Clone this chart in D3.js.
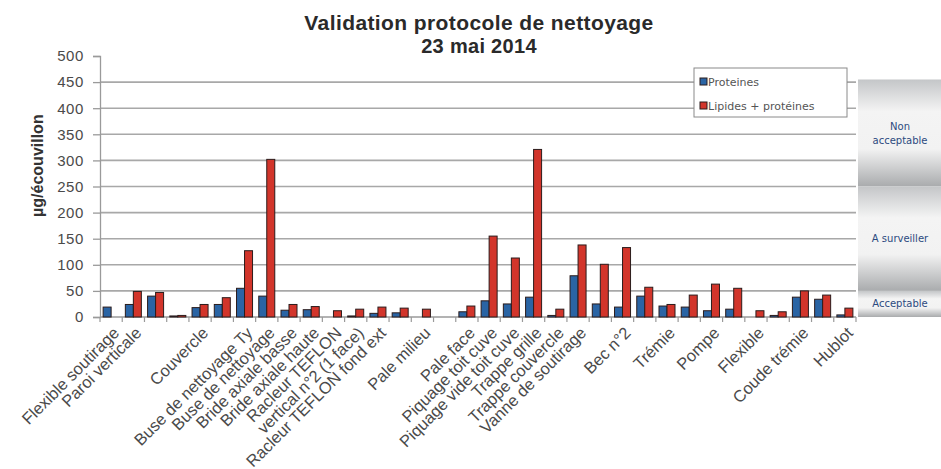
<!DOCTYPE html>
<html>
<head>
<meta charset="utf-8">
<script src="https://cdn.jsdelivr.net/npm/d3@7"></script>
<style>
  body { margin: 0; background: #fff; }
  svg { display: block; font-family: "Liberation Sans", Arial, sans-serif; }
</style>
</head>
<body>
<div id="viz"></div>
<script>
/* Validation protocole de nettoyage - bar chart rebuilt with D3 */

// categories (blank names are repeated sampling points)
var categories = [
  "Flexible soutirage", "Paroi verticale", "", "", "Couvercle", "",
  "Buse de nettoyage Ty", "Buse de nettoyage", "Bride axiale basse", "Bride axiale haute",
  "Racleur TEFLON", "vertical n°2 (1 face)", "Racleur TEFLON fond ext", "", "Pale milieu", "",
  "Pale face", "Piquage toit cuve", "Piquage vide toit cuve", "Trappe grille",
  "Trappe  couvercle", "Vanne de soutirage", "", "Bec n°2", "", "Trémie", "",
  "Pompe", "", "Flexible", "", "Coude trémie", "", "Hublot"
];

var proteines = [
  19, 24, 40, 2, 18, 24, 55, 40, 13, 14, null, 2, 7, 8, null, null,
  10, 31, 25, 38, 3, 79, 25, 19, 40, 21, 19, 12, 15, null, 3, 38, 34, 4
];

var lipides = [
  null, 49, 47, 3, 24, 37, 127, 302, 24, 20, 12, 15, 19, 17, 15, null,
  21, 155, 113, 321, 15, 138, 101, 133, 57, 24, 42, 63, 55, 12, 10, 50, 42, 17
];

var seriesNames = ["Proteines", "Lipides + protéines"];
var seriesColors = ["#2a64a4", "#d2352b"];

var yTicks = [0, 50, 100, 150, 200, 250, 300, 350, 400, 450, 500];

// zones on the right side
var zones = [
  { label: ["Non", "acceptable"], from: 455, to: 250 },
  { label: ["A surveiller"], from: 250, to: 50 },
  { label: ["Acceptable"], from: 50, to: 0 }
];

var W = 941, H = 469,
    margin = { top: 56, left: 100, right: 85, bottom: 152 },
    width = W - margin.left - margin.right,
    height = H - margin.top - margin.bottom;

var svg = d3.select('#viz').append('svg')
    .attr('width', W)
    .attr('height', H);

var defs = svg.append('defs');
var grad = defs.append('linearGradient')
    .attr('id', 'zoneGrad')
    .attr('x1', 0).attr('y1', 0).attr('x2', 0).attr('y2', 1);
grad.append('stop').attr('offset', '0%').attr('stop-color', '#c4c6c8');
grad.append('stop').attr('offset', '30%').attr('stop-color', '#f4f4f4');
grad.append('stop').attr('offset', '65%').attr('stop-color', '#f2f2f2');
grad.append('stop').attr('offset', '100%').attr('stop-color', '#a9abad');

var idx = d3.range(categories.length);

var x = d3.scaleBand()
    .domain(idx)
    .range([0, width]);

var x1 = d3.scaleBand()
    .domain([0, 1])
    .range([x.bandwidth() * 0.14, x.bandwidth() * 0.86]);

var y = d3.scaleLinear()
    .domain([0, 500])
    .range([height, 0]);

var g = svg.append('g')
    .attr('transform', 'translate(' + margin.left + ',' + margin.top + ')');

// gridlines
g.append('g')
  .selectAll('line')
  .data(yTicks.filter(function(d) { return d > 0 && d < 500; }))
  .enter().append('line')
    .attr('x1', 0)
    .attr('x2', width)
    .attr('y1', function(d) { return y(d); })
    .attr('y2', function(d) { return y(d); })
    .attr('stroke', '#a8a8a8')
    .attr('stroke-width', 1.6);

// y axis
var yAxis = g.append('g')
    .call(d3.axisLeft(y).tickValues(yTicks).tickSize(7).tickPadding(9));
yAxis.select('.domain').attr('stroke', '#9a9a9a').attr('stroke-width', 1.3);
yAxis.selectAll('.tick line').attr('stroke', '#9a9a9a').attr('stroke-width', 1.3);
yAxis.selectAll('.tick text')
    .attr('fill', '#4a4a4a')
    .style('font-size', '15px')
    .style('letter-spacing', '0.6px');

// x axis line + ticks at category boundaries
g.append('line')
    .attr('x1', 0).attr('x2', width)
    .attr('y1', height).attr('y2', height)
    .attr('stroke', '#9a9a9a')
    .attr('stroke-width', 1.3);

g.append('g')
  .selectAll('line')
  .data(d3.range(categories.length + 1))
  .enter().append('line')
    .attr('x1', function(d) { return d * x.step(); })
    .attr('x2', function(d) { return d * x.step(); })
    .attr('y1', height)
    .attr('y2', height + 5)
    .attr('stroke', '#9a9a9a')
    .attr('stroke-width', 1.2);

// bars
var groups = g.append('g')
  .selectAll('g')
  .data(idx)
  .enter().append('g')
    .attr('transform', function(d) { return 'translate(' + x(d) + ',0)'; });

groups.selectAll('rect')
  .data(function(i) {
    return [
      { s: 0, v: proteines[i] },
      { s: 1, v: lipides[i] }
    ].filter(function(d) { return d.v != null; });
  })
  .enter().append('rect')
    .attr('x', function(d) { return x1(d.s); })
    .attr('width', x1.bandwidth())
    .attr('y', function(d) { return y(d.v); })
    .attr('height', function(d) { return height - y(d.v); })
    .attr('fill', function(d) { return seriesColors[d.s]; })
    .attr('stroke', '#2b1c1c')
    .attr('stroke-width', 1);

// category labels
g.append('g')
  .selectAll('text')
  .data(idx)
  .enter().append('text')
    .attr('transform', function(d) {
      return 'translate(' + (x(d) + x.bandwidth() / 2 + 5) + ',' + (height + 13) + ') rotate(-45)';
    })
    .attr('text-anchor', 'end')
    .attr('dy', '0.35em')
    .attr('fill', '#4a4a4a')
    .style('font-size', '16.5px')
    .text(function(d) { return categories[d]; });

// y axis title
svg.append('text')
    .attr('transform', 'translate(43,' + (margin.top + y(290)) + ') rotate(-90)')
    .attr('text-anchor', 'middle')
    .attr('font-weight', 'bold')
    .attr('fill', '#333')
    .style('font-size', '16px')
    .text('µg/écouvillon');

// title
svg.append('text')
    .attr('x', 479).attr('y', 30)
    .attr('text-anchor', 'middle')
    .attr('font-weight', 'bold')
    .attr('fill', '#2a2a2a')
    .style('font-size', '21px')
    .style('letter-spacing', '0.4px')
    .text('Validation protocole de nettoyage');

svg.append('text')
    .attr('x', 479).attr('y', 53)
    .attr('text-anchor', 'middle')
    .attr('font-weight', 'bold')
    .attr('fill', '#2a2a2a')
    .style('font-size', '20px')
    .style('letter-spacing', '0.3px')
    .text('23 mai 2014');

// legend
var legend = g.append('g')
    .attr('transform', 'translate(' + (694 - margin.left) + ',' + (68 - margin.top) + ')');

legend.append('rect')
    .attr('width', 153)
    .attr('height', 49)
    .attr('fill', '#fff')
    .attr('stroke', '#8a8a8a');

var legendItem = legend.selectAll('g.item')
  .data(seriesNames)
  .enter().append('g')
    .attr('class', 'item')
    .attr('transform', function(d, i) { return 'translate(6,' + (10 + i * 24) + ')'; });

legendItem.append('rect')
    .attr('width', 7)
    .attr('height', 7)
    .attr('fill', function(d, i) { return seriesColors[i]; })
    .attr('stroke', '#2b1c1c');

legendItem.append('text')
    .attr('x', 8)
    .attr('y', 4)
    .attr('dy', '0.35em')
    .attr('fill', '#555')
    .style('font-family', '"DejaVu Sans", sans-serif')
    .style('font-size', '11px')
    .text(function(d) { return d; });

// zone panel
var zone = svg.append('g')
  .selectAll('g')
  .data(zones)
  .enter().append('g');

zone.append('rect')
    .attr('x', 858)
    .attr('width', W - 858)
    .attr('y', function(d) { return margin.top + y(d.from); })
    .attr('height', function(d) { return y(d.to) - y(d.from); })
    .attr('fill', 'url(#zoneGrad)');

zone.append('text')
    .attr('x', 900)
    .attr('y', function(d) {
      return margin.top + (y(d.from) + y(d.to)) / 2 - (d.label.length - 1) * 6;
    })
    .attr('text-anchor', 'middle')
    .attr('fill', '#2c4a80')
    .style('font-family', '"DejaVu Sans", sans-serif')
    .style('font-size', '10px')
    .selectAll('tspan')
    .data(function(d) { return d.label; })
    .enter().append('tspan')
      .attr('x', 900)
      .attr('dy', function(d, i) { return i === 0 ? '0.35em' : '1.4em'; })
      .text(function(d) { return d; });
</script>
</body>
</html>
